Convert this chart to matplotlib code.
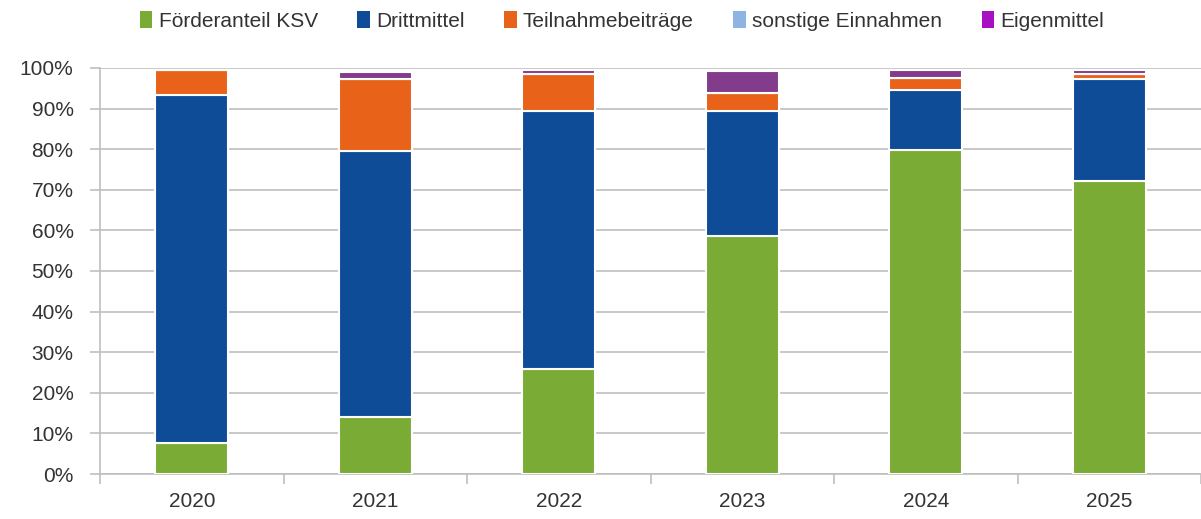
import numpy as np
import matplotlib.pyplot as plt
from matplotlib.patches import Patch

plt.rcParams['font.family'] = ['Liberation Sans', 'DejaVu Sans']

# Daten (Anteile in %)
jahre = ['2020', '2021', '2022', '2023', '2024', '2025']
foerderanteil_ksv = [7.6, 14.0, 25.9, 58.6, 79.8, 72.2]
drittmittel = [85.7, 65.6, 63.5, 30.8, 14.8, 25.0]
teilnahmebeitraege = [6.2, 17.7, 9.1, 4.4, 3.0, 1.4]
sonstige_einnahmen = [0.0, 0.0, 0.0, 0.0, 0.0, 0.0]
eigenmittel = [0.0, 1.6, 1.0, 5.4, 1.9, 1.0]

serien = ['Förderanteil KSV', 'Drittmittel', 'Teilnahmebeiträge', 'sonstige Einnahmen', 'Eigenmittel']
werte = [foerderanteil_ksv, drittmittel, teilnahmebeitraege, sonstige_einnahmen, eigenmittel]
farben_balken = ['#7aab35', '#0e4c98', '#e8621a', '#8eb4e3', '#833c8c']
farben_legende = ['#7aab35', '#0e4c98', '#e8621a', '#8eb4e3', '#a70fc0']

fig = plt.figure(figsize=(12.01, 5.19), dpi=100)
ax = fig.add_axes([100 / 1201, 45 / 519, 1101 / 1201, 406 / 519])

x = np.arange(len(jahre))
unten = np.zeros(len(jahre))
for name, w, c in zip(serien, werte, farben_balken):
    w = np.array(w)
    ax.bar(x, w, bottom=unten, width=0.4, color=c, edgecolor='white', linewidth=1.5, zorder=3)
    unten += w

ax.set_xlim(-0.5, len(jahre) - 0.5)
ax.set_ylim(0, 100)
ax.set_yticks(np.arange(0, 101, 10))
ax.set_yticklabels([f'{v}%' for v in range(0, 101, 10)])
ax.set_xticks(x)
ax.set_xticklabels(jahre)
ax.set_xticks(np.arange(-0.5, len(jahre), 1), minor=True)
ax.tick_params(axis='x', which='major', length=0, pad=13, labelsize=15, labelcolor='#333333')
ax.tick_params(axis='x', which='minor', length=7, color='#bfbfbf', width=1.2)
ax.tick_params(axis='y', length=7, color='#bfbfbf', width=1.2, pad=12, labelsize=15, labelcolor='#333333')
ax.grid(axis='y', color='#c4c4c4', linewidth=1.3, zorder=0)
for s in ['top', 'right']:
    ax.spines[s].set_visible(False)
for s in ['left', 'bottom']:
    ax.spines[s].set_color('#bfbfbf')
    ax.spines[s].set_linewidth(1.2)

handles = [Patch(facecolor=c, edgecolor='none') for c in farben_legende]
fig.legend(handles, serien, loc='upper center', bbox_to_anchor=(0.518, 1.015), ncol=5,
           frameon=False, fontsize=15, handlelength=0.6, handleheight=0.9,
           handletextpad=0.3, columnspacing=1.9, labelcolor='#333333')

fig.savefig('out.png', dpi=100)
